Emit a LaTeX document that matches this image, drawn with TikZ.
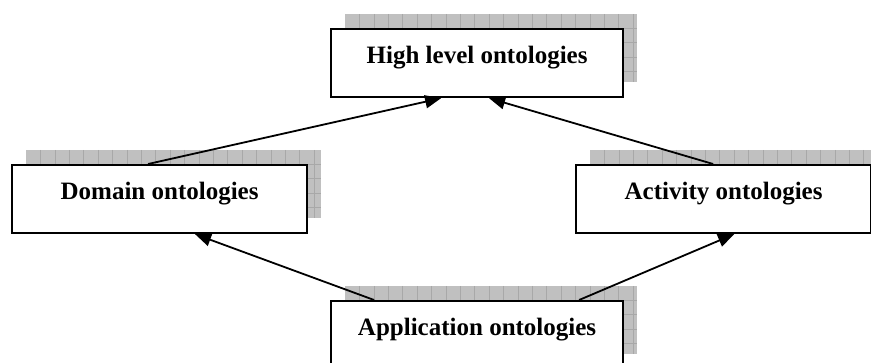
\documentclass[tikz,border=0pt]{standalone}
\usepackage{fontspec}
\setmainfont{Liberation Serif}
\usetikzlibrary{arrows.meta}
\definecolor{shfill}{RGB}{192,192,192}
\definecolor{shline}{RGB}{168,168,168}
\tikzset{
  ontbox/.style={draw=black, line width=2.2pt, fill=white, rectangle,
    inner xsep=0pt, inner ysep=0pt, text height=34pt, text depth=34pt,
    anchor=north west, font=\bfseries\fontsize{25}{30}\selectfont},
  conn/.style={line width=1.8pt, -{Triangle[length=16pt,width=13pt]}},
  gridline/.style={draw=shline, line width=0.6pt}
}
\newcommand{\gridshadow}[4]{% x, y (top-left, px), width, height
  \begin{scope}[shift={(#1,#2)}]
    \fill[shfill] (0,0) rectangle (#3,#4);
    \foreach \gx in {14.4,28.8,...,#3} \draw[gridline] (\gx,0) -- (\gx,#4);
    \foreach \gy in {14.4,28.8,...,#4} \draw[gridline] (0,\gy) -- (#3,\gy);
  \end{scope}}
\begin{document}
\begin{tikzpicture}[x=1pt,y=-1pt]
  \path[use as bounding box, clip] (0,0) rectangle (871,363);
  % shadows
  \gridshadow{345}{14}{292}{68}
  \gridshadow{26}{150}{295}{68}
  \gridshadow{590}{150}{295}{68}
  \gridshadow{345}{286}{292}{68}
  % boxes
  \node[ontbox, minimum width=292pt] (high) at (330,28) {High level ontologies};
  \node[ontbox, minimum width=295pt] (dom) at (11,164) {Domain ontologies};
  \node[ontbox, minimum width=295pt] (act) at (575,164) {Activity ontologies};
  \node[ontbox, minimum width=292pt] (app) at (330,300) {Application ontologies};
  % connectors
  \draw[conn] ([xshift=-11.5pt]dom.north) -- ([xshift=-36pt]high.south);
  \draw[conn] ([xshift=-10.5pt]act.north) -- ([xshift=12pt]high.south);
  \draw[conn] ([xshift=-103pt]app.north) -- ([xshift=35.5pt]dom.south);
  \draw[conn] ([xshift=102pt]app.north) -- ([xshift=10.5pt]act.south);
\end{tikzpicture}
\end{document}
